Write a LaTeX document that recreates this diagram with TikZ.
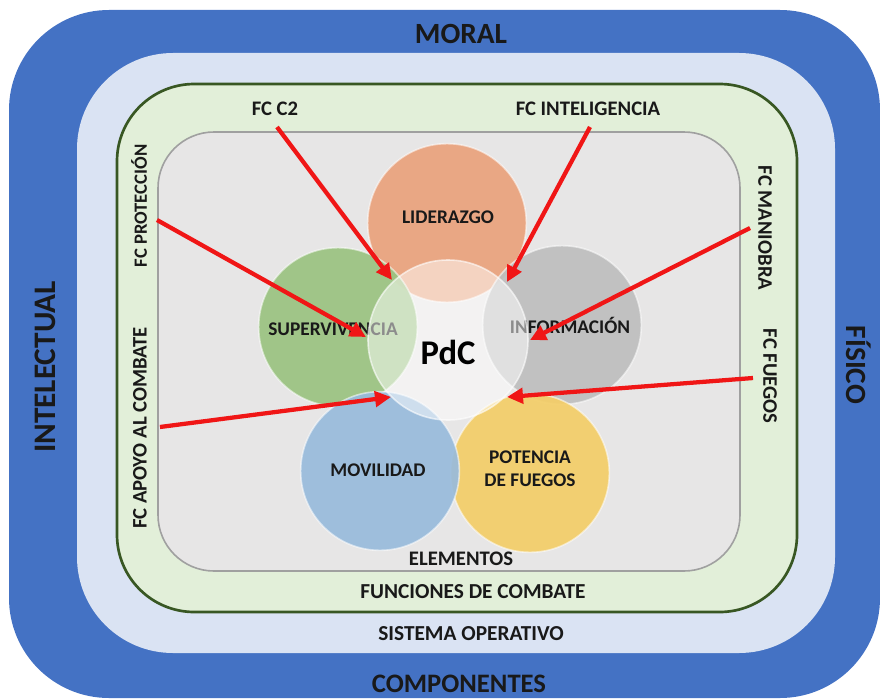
\documentclass[tikz,border=0pt]{standalone}
\usepackage{fontspec}
\setmainfont{Carlito}
\usetikzlibrary{arrows.meta}
\definecolor{outerblue}{RGB}{68,114,196}
\definecolor{lightblue}{RGB}{218,227,243}
\definecolor{greenfill}{RGB}{226,239,217}
\definecolor{greenline}{RGB}{56,87,35}
\definecolor{grayfill}{RGB}{231,230,230}
\definecolor{grayline}{RGB}{160,160,160}
\definecolor{corange}{RGB}{234,162,124}
\definecolor{cgreen}{RGB}{154,195,128}
\definecolor{cgray}{RGB}{190,190,190}
\definecolor{cblue}{RGB}{152,187,220}
\definecolor{cyellow}{RGB}{244,206,104}
\definecolor{arrowred}{RGB}{240,22,22}
\definecolor{txt}{RGB}{25,25,25}
\begin{document}
\begin{tikzpicture}[x=0.75pt,y=-0.75pt,
  big/.style={font=\bfseries\fontsize{22}{24}\selectfont, text=txt, inner sep=0pt},
  mid/.style={font=\bfseries\fontsize{16}{18}\selectfont, text=txt, inner sep=0pt},
  fc/.style={font=\bfseries\fontsize{15.5}{17}\selectfont, text=txt, inner sep=0pt},
  circlab/.style={font=\bfseries\fontsize{14.5}{17}\selectfont, text=txt, inner sep=0pt, align=center},
  elem/.style={circle, minimum size=119pt, inner sep=0pt, fill opacity=0.92, draw=white, draw opacity=0.55, line width=1.2pt},
  redarrow/.style={draw=arrowred, line width=3.2pt, -{Triangle[length=12pt,width=11.5pt]}}
]
\useasboundingbox (0,0) rectangle (880,699);
% layers
\fill[outerblue, rounded corners=75pt] (9,10) rectangle (880,698);
\fill[lightblue, rounded corners=72pt] (77,53) rectangle (835,653);
\draw[greenline, fill=greenfill, line width=2pt, rounded corners=58pt] (117,84) rectangle (797,612);
\draw[grayline, fill=grayfill, line width=1.2pt, rounded corners=42pt] (158,132) rectangle (740,571);

% element circles
\node[elem, fill=corange] (lid) at (447,223) {};
\node[elem, fill=cgreen] (sup) at (338,327) {};
\node[elem, fill=cgray] (inf) at (562,325) {};
\node[elem, fill=cyellow] (pot) at (530,473) {};
\node[elem, fill=cblue] (mov) at (380,471) {};

\node[circlab] (tlid) at (448,217) {LIDERAZGO};
\node[circlab] (tsup) at (333,329) {SUPERVIVENCIA};
\node[circlab] (tinf) at (570,325) {INFORMACIÓN};
\node[circlab] (tmov) at (378,470) {MOVILIDAD};
\node[circlab] (tpot) at (530,469) {POTENCIA\\DE FUEGOS};

% PdC centre circle
\node[circle, minimum size=120pt, inner sep=0pt, fill=white, fill opacity=0.5, draw=white, draw opacity=0.6, line width=1.2pt] (pdc) at (448,340) {};
\node[font=\bfseries\fontsize{26}{28}\selectfont, text=black, inner sep=0pt] (tpdc) at (448,352) {PdC};

% layer labels
\node[big] (moral) at (461,34) {MORAL};
\node[big, font=\bfseries\fontsize{20}{22}\selectfont] (comp) at (459,684) {COMPONENTES};
\node[big, font=\bfseries\fontsize{23.5}{25}\selectfont, rotate=90] (intel) at (45,367) {INTELECTUAL};
\node[big, rotate=-90] (fis) at (859,365) {FÍSICO};
\node[mid] (sist) at (471,634) {SISTEMA OPERATIVO};
\node[mid] (func) at (473,592) {FUNCIONES DE COMBATE};
\node[fc] (elems) at (461,559) {ELEMENTOS};

% FC labels
\node[fc] (fcc2) at (275,109) {FC C2};
\node[fc] (fcint) at (588,109) {FC INTELIGENCIA};
\node[fc, font=\bfseries\fontsize{14}{16}\selectfont, rotate=90] (fcprot) at (139,206) {FC PROTECCIÓN};
\node[fc, rotate=90] (fcapoyo) at (140,428) {FC APOYO AL COMBATE};
\node[fc, rotate=-90] (fcman) at (765,228) {FC MANIOBRA};
\node[fc, rotate=-90] (fcfue) at (770,376) {FC FUEGOS};

% arrow end points
\coordinate (sc2) at (277,127);
\coordinate (ec2) at (392,280);
\coordinate (sint) at (590,127);
\coordinate (eint) at (507,282);
\coordinate (sprot) at (157,220);
\coordinate (eprot) at (366,337);
\coordinate (sman) at (750,228);
\coordinate (eman) at (530,340);
\coordinate (sfue) at (753,378);
\coordinate (efue) at (507,397);
\coordinate (sapo) at (160,427);
\coordinate (eapo) at (391,397);

\draw[redarrow] (sc2) -- (ec2);
\draw[redarrow] (sint) -- (eint);
\draw[redarrow] (sprot) -- (eprot);
\draw[redarrow] (sman) -- (eman);
\draw[redarrow] (sfue) -- (efue);
\draw[redarrow] (sapo) -- (eapo);
\end{tikzpicture}
\end{document}
